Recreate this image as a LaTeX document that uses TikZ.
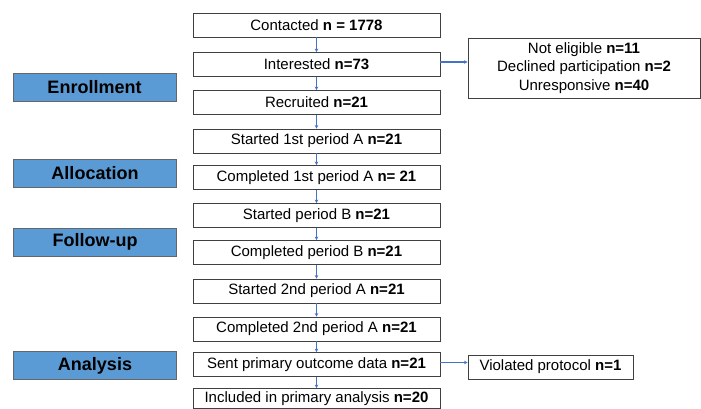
\documentclass[tikz,border=0pt]{standalone}
\usepackage{fontspec}
\setmainfont{Liberation Sans}
\usetikzlibrary{arrows.meta}
\definecolor{phaseblue}{HTML}{5B9BD5}
\definecolor{arrowblue}{HTML}{4472C4}
\definecolor{boxline}{HTML}{404040}
\tikzset{
  flowbox/.style={draw=boxline, line width=0.9pt, fill=white, minimum width=247pt, minimum height=24pt, inner sep=0pt, font=\fontsize{15}{18}\selectfont, align=center},
  phasebox/.style={draw=boxline!80, line width=0.9pt, fill=phaseblue, minimum width=163pt, minimum height=28pt, inner sep=0pt, font=\fontsize{18}{21}\selectfont\bfseries},
  sidebox/.style={draw=boxline, line width=0.9pt, fill=white, inner sep=0pt, font=\fontsize{15}{18.5}\selectfont, align=center},
  flowarrow/.style={draw=arrowblue, line width=1.1pt, -{Stealth[length=3.5pt,width=3.5pt]}}
}
\begin{document}
\begin{tikzpicture}[x=1pt,y=-1pt]
\useasboundingbox (0,0) rectangle (701,409);
% main column
\node[flowbox] (c1) at (316.5,25) {Contacted \textbf{n = 1778}};
\node[flowbox] (c2) at (316.5,64.5) {Interested \textbf{n=73}};
\node[flowbox] (c3) at (316.5,102.5) {Recruited \textbf{n=21}};
\node[flowbox] (c4) at (316.5,141) {Started 1st period A \textbf{n=21}};
\node[flowbox] (c5) at (316.5,177.5) {Completed 1st period A \textbf{n= 21}};
\node[flowbox] (c6) at (316.5,215.5) {Started period B \textbf{n=21}};
\node[flowbox] (c7) at (316.5,252.5) {Completed period B \textbf{n=21}};
\node[flowbox] (c8) at (316.5,291) {Started 2nd period A \textbf{n=21}};
\node[flowbox] (c9) at (316.5,329) {Completed 2nd period A \textbf{n=21}};
\node[flowbox] (c10) at (316.5,364.5) {Sent primary outcome data \textbf{n=21}};
\node[flowbox, minimum height=20pt] (c11) at (316.5,398.5) {Included in primary analysis \textbf{n=20}};
% phase labels
\node[phasebox] (p1) at (94.5,87) {Enrollment};
\node[phasebox] (p2) at (95,173.5) {Allocation};
\node[phasebox] (p3) at (95,242) {Follow-up};
\node[phasebox] (p4) at (95,365.5) {Analysis};
% side boxes
\node[sidebox, minimum width=232pt, minimum height=60pt] (s1) at (584,68) {Not eligible \textbf{n=11}\\Declined participation \textbf{n=2}\\Unresponsive \textbf{n=40}};
\node[sidebox, minimum width=165pt, minimum height=24pt] (s2) at (550.5,367) {Violated protocol \textbf{n=1}};
% arrows
\foreach \a/\b in {c1/c2,c2/c3,c3/c4,c4/c5,c5/c6,c6/c7,c7/c8,c8/c9,c9/c10,c10/c11}
  \draw[flowarrow] (\a.south) -- (\b.north);
\draw[flowarrow] ([yshift=2.5pt]c2.east) -- ([yshift=2.5pt]c2.east -| s1.west);
\draw[flowarrow] ([yshift=2pt]c10.east) -- ([yshift=2pt]c10.east -| s2.west);
\end{tikzpicture}
\end{document}
